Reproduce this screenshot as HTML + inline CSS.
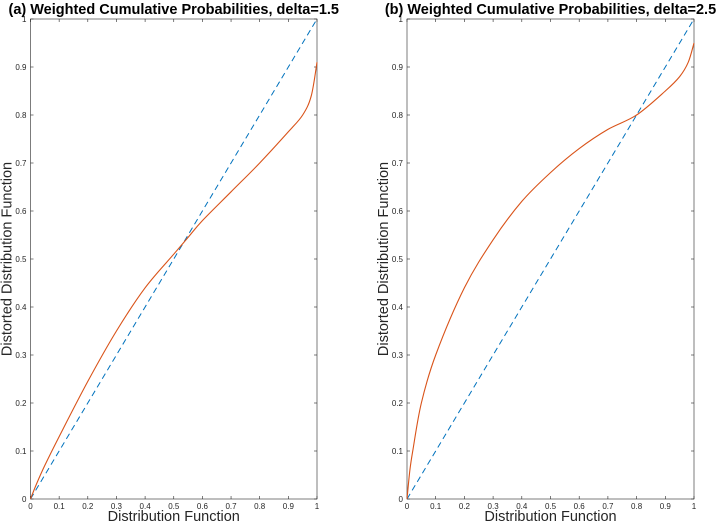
<!DOCTYPE html>
<html><head><meta charset="utf-8"><style>
body{margin:0;background:#fff}
svg{display:block;font-family:"Liberation Sans",sans-serif}
</style></head><body>
<svg id="c" width="722" height="524"></svg>
<script>
const xTicks=[0,0.1,0.2,0.3,0.4,0.5,0.6,0.7,0.8,0.9,1];
const tickLabels=["0","0.1","0.2","0.3","0.4","0.5","0.6","0.7","0.8","0.9","1"];
const leftX=[0,0.02,0.05,0.1,0.2,0.3,0.4,0.5,0.55,0.6,0.7,0.8,0.9,0.95,0.98,1];
const leftY=[0,0.03,0.07,0.13,0.245,0.35,0.44,0.51,0.545,0.58,0.64,0.70,0.765,0.80,0.84,0.91];
const rightX=[0,0.01,0.02,0.05,0.1,0.2,0.3,0.4,0.5,0.6,0.7,0.8,0.9,0.95,0.98,1];
const rightY=[0,0.06,0.1,0.2,0.3,0.44,0.54,0.62,0.68,0.73,0.77,0.80,0.85,0.88,0.91,0.95];
const panels=[{x0:30.5,x1:317,t:"(a) Weighted Cumulative Probabilities, delta=1.5",xs:leftX,ys:leftY,n:"left"},
{x0:407,x1:694,t:"(b) Weighted Cumulative Probabilities, delta=2.5",xs:rightX,ys:rightY,n:"right"}];
const svg=document.getElementById('c');const NS="http://www.w3.org/2000/svg";
const Y0=499,Y1=19;
function mk(tag,a,p){const e=document.createElementNS(NS,tag);for(const k in a)e.setAttribute(k,a[k]);(p||svg).appendChild(e);return e;}
function smooth(P){let d='M'+P[0][0]+','+P[0][1];
 for(let i=0;i<P.length-1;i++){const p0=P[Math.max(i-1,0)],p1=P[i],p2=P[i+1],p3=P[Math.min(i+2,P.length-1)];
  const c1=[p1[0]+(p2[0]-p0[0])/6,p1[1]+(p2[1]-p0[1])/6],c2=[p2[0]-(p3[0]-p1[0])/6,p2[1]-(p3[1]-p1[1])/6];
  d+=' C'+c1+' '+c2+' '+p2;}return d;}
panels.forEach(P=>{
 const sx=v=>P.x0+v*(P.x1-P.x0), sy=v=>Y0-v*(Y0-Y1);
 const g=mk('g',{});
 
 
 const ax=mk('rect',{x:P.x0,y:Y1,width:P.x1-P.x0,height:Y0-Y1,fill:'none',stroke:'#262626','stroke-width':0.6},g);
 
 
 xTicks.forEach((v,i)=>{
  mk('line',{x1:sx(v),x2:sx(v),y1:Y0,y2:Y0-3,stroke:'#262626','stroke-width':0.6},g);
  mk('line',{x1:sx(v),x2:sx(v),y1:Y1,y2:Y1+3,stroke:'#262626','stroke-width':0.6},g);
  mk('line',{x1:P.x0,x2:P.x0+3,y1:sy(v),y2:sy(v),stroke:'#262626','stroke-width':0.6},g);
  mk('line',{x1:P.x1,x2:P.x1-3,y1:sy(v),y2:sy(v),stroke:'#262626','stroke-width':0.6},g);
  const tx=mk('text',{x:sx(v),y:Y0+10,'font-size':8,'text-anchor':'middle',fill:'#262626'},g);tx.textContent=tickLabels[i];
  
  
  const ty=mk('text',{x:P.x0-4,y:sy(v)+3,'font-size':8,'text-anchor':'end',fill:'#262626'},g);ty.textContent=tickLabels[i];
  
  
 });
 const d=mk('line',{x1:sx(0),y1:sy(0),x2:sx(1),y2:sy(1),stroke:'#0072BD','stroke-width':1,'stroke-dasharray':'6,4'},g);
 
 
 const pts=P.xs.map((x,i)=>[sx(x),sy(P.ys[i])]);
 const c=mk('path',{d:smooth(pts),fill:'none',stroke:'#D95319','stroke-width':1.1},g);
 
 
 const t=mk('text',{x:(P.x0+P.x1)/2,y:14,'font-size':14.5,'font-weight':'bold','text-anchor':'middle',fill:'#000'},g);t.textContent=P.t;
 
 
 const xl=mk('text',{x:(P.x0+P.x1)/2,y:521,'font-size':14.5,'text-anchor':'middle',fill:'#262626'},g);xl.textContent="Distribution Function";
 
 
 const yl=mk('text',{x:0,y:0,'font-size':14.5,'text-anchor':'middle',fill:'#262626',transform:`translate(${P.x0-19},${(Y0+Y1)/2}) rotate(-90)`},g);yl.textContent="Distorted Distribution Function";
 
 
});
</script>
</body></html>
